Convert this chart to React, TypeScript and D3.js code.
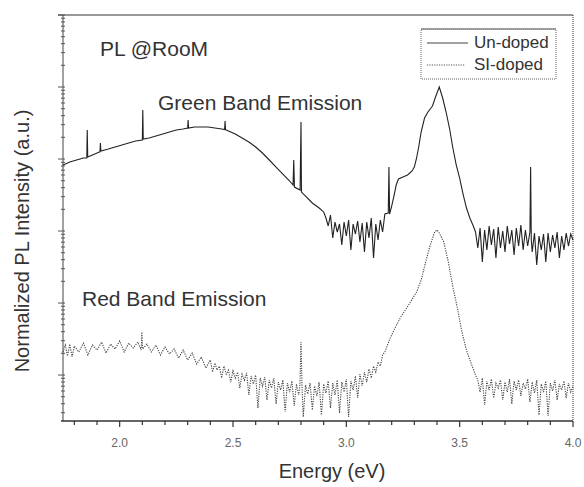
import React from "react";
import * as d3 from "d3";

// energy (eV), intensity (a.u., log scale)
const undopedPoints: [number, number][] = [
  [1.75, 8250], [1.78, 9090], [1.81, 9690], [1.84, 10330], [1.855, 10330], [1.857, 25280], [1.859, 10660],
  [1.88, 11370], [1.91, 12510], [1.913, 12510], [1.915, 16680], [1.917, 12920], [1.95, 13770], [1.98, 14680],
  [2.01, 15650], [2.04, 16680], [2.07, 17780], [2.1, 18360], [2.102, 47930], [2.104, 18960], [2.13, 19570],
  [2.16, 20860], [2.19, 22240], [2.22, 23710], [2.25, 25280], [2.28, 26100], [2.3, 26950], [2.302, 34810],
  [2.304, 26950], [2.33, 27830], [2.36, 27830], [2.39, 27830], [2.42, 26950], [2.45, 26100], [2.463, 25700],
  [2.465, 33710], [2.467, 25500], [2.48, 24480], [2.51, 22240], [2.54, 19570], [2.57, 17220], [2.6, 14680],
  [2.63, 12120], [2.66, 9690], [2.69, 7740], [2.72, 6190], [2.75, 4950], [2.765, 4350], [2.768, 9690],
  [2.771, 4080], [2.796, 3710], [2.8, 32650], [2.802, 3480], [2.82, 3060], [2.85, 2450], [2.88, 2090],
  [2.9, 1840], [2.91, 1515], [2.92, 1174], [2.93, 1668], [2.94, 799], [2.95, 1334], [2.96, 969], [2.97, 1251],
  [2.98, 639], [2.99, 1334], [3.0, 852], [3.01, 1422], [3.02, 545], [3.03, 1251], [3.04, 909], [3.05, 1377],
  [3.06, 704], [3.07, 1292], [3.08, 511], [3.09, 1334], [3.1, 799], [3.11, 1515], [3.12, 422], [3.13, 1251],
  [3.14, 750], [3.15, 1422], [3.16, 969], [3.17, 1722], [3.185, 1778], [3.188, 7743], [3.191, 1722],
  [3.2, 2224], [3.21, 3063], [3.22, 4354], [3.23, 5275], [3.25, 5623], [3.27, 5995], [3.29, 6813], [3.3, 7743],
  [3.31, 10330], [3.32, 15150], [3.33, 23710], [3.345, 37110], [3.36, 44960], [3.38, 54470], [3.395, 74990],
  [3.41, 100000], [3.425, 70350], [3.44, 44960], [3.455, 26950], [3.47, 14220], [3.485, 8254], [3.5, 5447],
  [3.515, 3265], [3.53, 2086], [3.545, 1515], [3.56, 1174], [3.57, 969], [3.58, 581], [3.59, 1101], [3.6, 371],
  [3.61, 1033], [3.62, 545], [3.63, 1174], [3.64, 639], [3.65, 1066], [3.66, 422], [3.67, 1137], [3.68, 581],
  [3.69, 1000], [3.7, 511], [3.71, 1174], [3.72, 660], [3.73, 1033], [3.74, 464], [3.75, 1101], [3.76, 619],
  [3.77, 1212], [3.78, 545], [3.79, 1033], [3.8, 619], [3.81, 969], [3.813, 7743], [3.816, 750], [3.82, 511],
  [3.83, 938], [3.84, 337], [3.85, 852], [3.86, 545], [3.87, 909], [3.88, 371], [3.89, 938], [3.9, 511],
  [3.91, 880], [3.92, 581], [3.93, 969], [3.94, 422], [3.95, 852], [3.96, 545], [3.97, 938], [3.98, 619],
  [3.99, 909], [4.0, 750],
];

const siDopedPoints: [number, number][] = [
  [1.75, 20.9], [1.76, 26.1], [1.77, 18.4], [1.78, 26.9], [1.79, 17.8], [1.8, 25.3], [1.82, 20.9], [1.84, 27.8],
  [1.86, 19.0], [1.88, 26.1], [1.9, 22.2], [1.92, 28.7], [1.94, 20.2], [1.96, 26.9], [1.98, 23.0], [2.0, 29.7],
  [2.02, 20.9], [2.04, 27.8], [2.06, 23.7], [2.08, 28.7], [2.095, 22.2], [2.098, 39.6], [2.101, 23.0],
  [2.12, 26.9], [2.14, 20.9], [2.16, 26.1], [2.18, 19.0], [2.2, 24.5], [2.22, 19.6], [2.24, 23.0], [2.26, 17.2],
  [2.28, 22.2], [2.3, 16.2], [2.32, 20.2], [2.34, 14.2], [2.36, 17.8], [2.38, 12.5], [2.4, 16.2], [2.41, 11.0],
  [2.42, 14.7], [2.43, 11.7], [2.44, 13.3], [2.45, 9.09], [2.46, 13.3], [2.47, 10.3], [2.48, 11.7], [2.49, 7.99],
  [2.5, 11.4], [2.51, 9.09], [2.52, 11.0], [2.53, 6.6], [2.54, 10.3], [2.55, 8.52], [2.56, 10.7], [2.57, 5.28],
  [2.58, 9.69], [2.59, 7.5], [2.6, 10.0], [2.61, 3.48], [2.62, 9.09], [2.63, 7.04], [2.64, 9.38], [2.65, 4.5],
  [2.66, 8.52], [2.67, 6.6], [2.68, 9.09], [2.69, 3.96], [2.7, 7.99], [2.71, 6.19], [2.72, 8.52], [2.73, 3.06],
  [2.74, 7.74], [2.75, 5.81], [2.76, 8.25], [2.77, 3.71], [2.78, 7.5], [2.79, 5.28], [2.795, 7.04], [2.8, 28.7],
  [2.805, 6.19], [2.81, 2.61], [2.82, 7.26], [2.83, 5.45], [2.84, 7.74], [2.85, 3.27], [2.86, 7.04], [2.87, 5.11],
  [2.88, 7.99], [2.89, 2.78], [2.9, 7.5], [2.91, 5.62], [2.92, 8.25], [2.93, 3.48], [2.94, 7.74], [2.95, 5.28],
  [2.96, 8.52], [2.97, 2.97], [2.98, 7.99], [2.99, 5.81], [3.0, 8.8], [3.01, 2.61], [3.02, 8.25], [3.03, 6.19],
  [3.04, 9.69], [3.05, 4.79], [3.06, 10.3], [3.07, 7.04], [3.08, 11.0], [3.09, 7.99], [3.1, 12.1], [3.11, 9.09],
  [3.12, 13.3], [3.13, 11.0], [3.14, 15.2], [3.15, 13.3], [3.16, 19.0], [3.17, 20.9], [3.19, 30.6], [3.21, 42.2],
  [3.24, 63.9], [3.26, 79.9], [3.28, 100], [3.31, 142], [3.33, 209], [3.35, 371], [3.37, 639], [3.39, 969],
  [3.4, 1033], [3.41, 938], [3.43, 704], [3.45, 371], [3.47, 167], [3.49, 85.2], [3.51, 39.6], [3.53, 22.2],
  [3.55, 14.7], [3.57, 10.0], [3.58, 8.52], [3.59, 5.81], [3.6, 9.09], [3.61, 3.83], [3.62, 8.25], [3.63, 6.19],
  [3.64, 8.8], [3.65, 4.79], [3.66, 7.74], [3.67, 6.6], [3.68, 8.52], [3.69, 4.5], [3.7, 7.99], [3.71, 5.81],
  [3.72, 8.8], [3.73, 3.96], [3.74, 8.25], [3.75, 6.19], [3.76, 8.52], [3.77, 5.11], [3.78, 7.74], [3.79, 6.39],
  [3.8, 8.8], [3.81, 4.22], [3.82, 7.99], [3.83, 5.62], [3.84, 8.52], [3.85, 2.78], [3.86, 7.5], [3.87, 5.81],
  [3.88, 8.25], [3.89, 2.7], [3.9, 7.74], [3.91, 6.0], [3.92, 8.52], [3.93, 4.5], [3.94, 7.5], [3.95, 6.19],
  [3.96, 8.25], [3.97, 4.79], [3.98, 7.74], [3.99, 5.81], [4.0, 7.04],
];

const xTickLabels = ["2.0", "2.5", "3.0", "3.5", "4.0"];
const seriesNames = ["Un-doped", "SI-doped"];

const W = 584;
const H = 487;
const left = 63, right = 573, top = 15, bottom = 421;
const font = "'Liberation Sans', Arial, sans-serif";

export default function App() {
  const x = d3.scaleLinear().domain([1.75, 4.0]).range([left, right]);
  const y = d3.scaleLog().domain([2.3, 1e6]).range([bottom, top]);

  const line = d3.line<[number, number]>()
    .x(d => x(d[0]))
    .y(d => y(d[1]));

  const xTicks = x.ticks(23);
  const yTicks = y.ticks();
  const isMajorX = (t: number) => Math.abs(t * 2 - Math.round(t * 2)) < 1e-6;
  const isMajorY = (t: number) => Math.abs(Math.log10(t) - Math.round(Math.log10(t))) < 1e-6;

  return (
    <svg width={W} height={H} style={{ position: "absolute", left: 0, top: 0, background: "#fff" }}
      fontFamily={font}>
      {/* frame */}
      <line x1={58} x2={right} y1={top} y2={top} stroke="#999" strokeWidth={2} />
      <line x1={right} x2={right} y1={top} y2={bottom} stroke="#555" strokeWidth={1.2} strokeDasharray="1 1" />
      <line x1={left} x2={left} y1={top} y2={bottom} stroke="#444" strokeWidth={1} />
      <line x1={left - 2} x2={right} y1={bottom} y2={bottom} stroke="#333" strokeWidth={1.5} />

      {/* y ticks (log) */}
      {yTicks.map((t, i) => {
        const major = isMajorY(t);
        return (
          <line key={"y" + i} x1={major ? left - 5 : left - 2} x2={left + 2} y1={y(t)} y2={y(t)}
            stroke="#555" strokeWidth={1} />
        );
      })}

      {/* x ticks */}
      {xTicks.map((t, i) => (
        <line key={"x" + i} x1={x(t)} x2={x(t)} y1={bottom} y2={bottom + (isMajorX(t) ? 6 : 4)}
          stroke="#333" strokeWidth={1.2} />
      ))}
      {xTickLabels.map(l => (
        <text key={l} x={x(+l)} y={447} textAnchor="middle" fontSize={12} fill="#666">{l}</text>
      ))}

      {/* axis titles */}
      <text x={332} y={478} textAnchor="middle" fontSize={20} fill="#333">Energy (eV)</text>
      <text transform={`translate(29,241) rotate(-90)`} textAnchor="middle" fontSize={20} fill="#333">
        Normalized PL Intensity (a.u.)
      </text>

      {/* curves */}
      <path d={line(undopedPoints) || ""} fill="none" stroke="#222" strokeWidth={1.1} />
      <path d={line(siDopedPoints) || ""} fill="none" stroke="#444" strokeWidth={1.1}
        strokeDasharray="1.2 1.2" />

      {/* annotations */}
      <text x={100} y={56} fontSize={21} fill="#333">PL @RooM</text>
      <text x={158} y={110} fontSize={21} fill="#333">Green Band Emission</text>
      <text x={82} y={306} fontSize={21} fill="#333">Red Band Emission</text>

      {/* legend */}
      <rect x={421} y={29} width={135} height={50} fill="#fff" stroke="#666" strokeWidth={1}
        strokeDasharray="1 1" />
      <line x1={421} x2={556} y1={29} y2={29} stroke="#888" strokeWidth={1.5} />
      <line x1={427} x2={468} y1={43} y2={43} stroke="#444" strokeWidth={1} />
      <text x={474} y={48} fontSize={17} fill="#333">{seriesNames[0]}</text>
      <line x1={427} x2={465} y1={65} y2={65} stroke="#555" strokeWidth={1} strokeDasharray="1.2 1.2" />
      <text x={474} y={70} fontSize={17} fill="#333">{seriesNames[1]}</text>
    </svg>
  );
}
